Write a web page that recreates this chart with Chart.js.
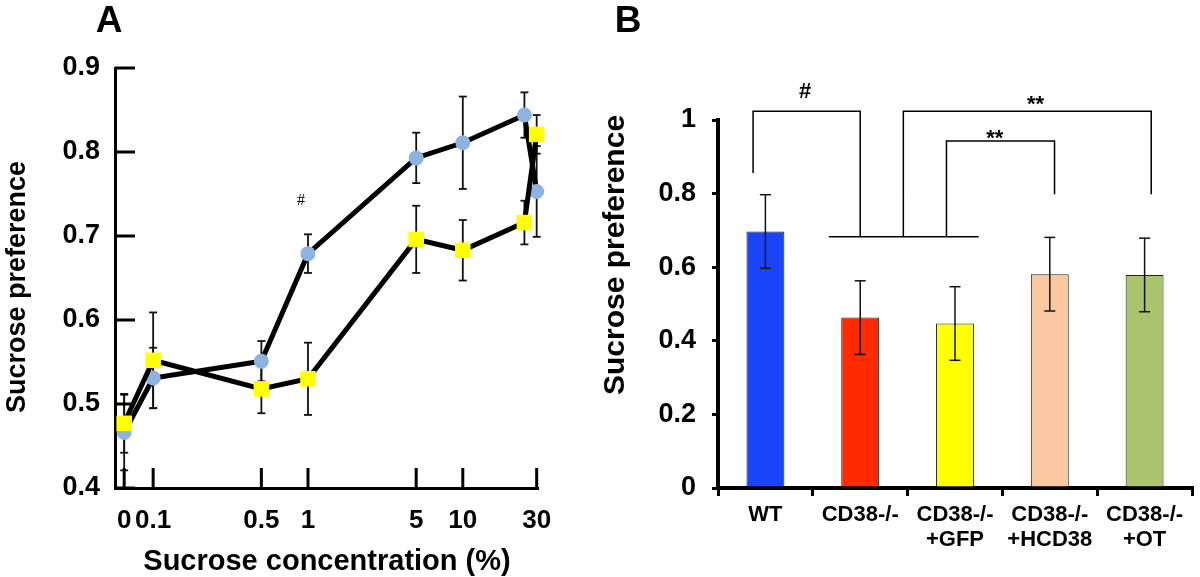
<!DOCTYPE html>
<html>
<head>
<meta charset="utf-8">
<script src="https://cdn.jsdelivr.net/npm/chart.js@4.4.1/dist/chart.umd.min.js"></script>
<style>
  html, body { margin: 0; padding: 0; background: #fff; }
  #wrap { position: relative; width: 1200px; height: 577px; }
  #chartA { position: absolute; left: 0; top: 0; }
  #chartB { position: absolute; left: 580px; top: 0; }
</style>
</head>
<body>
<div id="wrap">
  <canvas id="chartA" width="580" height="577"></canvas>
  <canvas id="chartB" width="620" height="577"></canvas>
</div>
<script>
// ---- Panel A: preference vs sucrose concentration ----
const CONC = [0, 0.1, 0.5, 1, 5, 10, 25, 30];
const PREF_BLUE = [0.466, 0.531, 0.551, 0.679, 0.793, 0.811, 0.844, 0.753];
const ERR_BLUE = [0.045, 0.036, 0.024, 0.023, 0.03, 0.055, 0.027, 0.054];
const PREF_YELLOW = [0.477, 0.552, 0.518, 0.530, 0.696, 0.683, 0.716, 0.821];
const ERR_YELLOW = [0.035, 0.057, 0.029, 0.043, 0.04, 0.036, 0.026, 0.023];
const CONC_TICKS = [0, 0.1, 0.5, 1, 5, 10, 30];
const PREF_TICKS_A = [0.4, 0.5, 0.6, 0.7, 0.8, 0.9];
const ZERO_AT = 0.065; // where "0" sits on the log axis

// ---- Panel B: groups ----
const GROUPS = [['WT'], ['CD38-/-'], ['CD38-/-', '+GFP'], ['CD38-/-', '+HCD38'], ['CD38-/-', '+OT']];
const PREF_B = [0.697, 0.463, 0.447, 0.581, 0.579];
const ERR_B = [0.1, 0.1, 0.1, 0.1, 0.1];
const BAR_COLORS = ['#1A44F8', '#FF2A00', '#FFFF00', '#FAC8A0', '#A9C46D'];

// significance brackets, in category index / value units
const BRACKETS = [
    { x1: -0.13, x2: 1.0, top: 1.024, left: 0.856, right: 0.683 },
    { x1: 1.455, x2: 4.07, top: 1.024, left: 0.683, right: 0.798 },
    { x1: 1.91, x2: 3.05, top: 0.943, left: 0.683, right: 0.798 }
];
const GROUP_LINE = { x1: 0.67, x2: 2.25, y: 0.683 };
const SIG_MARKS = [
    { text: '#', x: 0.42, y: 1.06 },
    { text: '**', x: 2.85, y: 1.025 },
    { text: '**', x: 2.42, y: 0.933 }
];

const FONT = "'Liberation Sans', Arial, Helvetica, sans-serif";
Chart.defaults.font.family = FONT;
Chart.defaults.color = '#000';

function line(ctx, x1, y1, x2, y2) {
    ctx.beginPath();
    ctx.moveTo(x1, y1);
    ctx.lineTo(x2, y2);
    ctx.stroke();
}

// tick marks pointing into the plot (panel A)
const inwardTicks = {
    id: 'inwardTicks',
    afterDraw(chart, args, opts) {
        const { ctx, chartArea } = chart;
        const xs = chart.scales.x, ys = chart.scales.y;
        ctx.save();
        ctx.strokeStyle = '#000';
        ctx.lineWidth = opts.lineWidth;
        xs.ticks.forEach(t => {
            const px = xs.getPixelForValue(t.value);
            line(ctx, px, chartArea.bottom, px, chartArea.bottom - opts.length);
        });
        ys.ticks.forEach(t => {
            const py = ys.getPixelForValue(t.value);
            line(ctx, chartArea.left, py, chartArea.left + opts.length, py);
        });
        ctx.restore();
    }
};

function drawErrorBars(chart, opts) {
    const ctx = chart.ctx, ys = chart.scales.y;
    ctx.save();
    ctx.strokeStyle = opts.color || '#000';
    ctx.lineWidth = opts.lineWidth;
    chart.data.datasets.forEach((ds, i) => {
        if (!ds.errors) return;
        const meta = chart.getDatasetMeta(i);
        meta.data.forEach((el, j) => {
            const v = ds.data[j];
            const val = typeof v === 'object' ? v.y : v;
            const top = ys.getPixelForValue(val + ds.errors[j]);
            const bot = ys.getPixelForValue(val - ds.errors[j]);
            const w = opts.cap / 2;
            line(ctx, el.x, top, el.x, bot);
            line(ctx, el.x - w, top, el.x + w, top);
            line(ctx, el.x - w, bot, el.x + w, bot);
        });
    });
    ctx.restore();
}

const errorBars = {
    id: 'errorBars',
    beforeDatasetsDraw(chart, args, opts) { if (!opts.above) drawErrorBars(chart, opts); },
    afterDatasetsDraw(chart, args, opts) { if (opts.above) drawErrorBars(chart, opts); }
};

// free text: panel letters, axis titles, marks
const freeText = {
    id: 'freeText',
    afterDraw(chart, args, opts) {
        const ctx = chart.ctx;
        (opts.items || []).forEach(it => {
            ctx.save();
            ctx.font = it.font;
            ctx.fillStyle = '#000';
            ctx.textAlign = 'center';
            ctx.textBaseline = 'alphabetic';
            ctx.translate(it.x, it.y);
            if (it.rotate) ctx.rotate(it.rotate);
            ctx.fillText(it.text, 0, 0);
            ctx.restore();
        });
    }
};

const brackets = {
    id: 'brackets',
    afterDraw(chart) {
        const { ctx } = chart;
        const xs = chart.scales.x, ys = chart.scales.y;
        const X = v => xs.getPixelForValue(v), Y = v => ys.getPixelForValue(v);
        ctx.save();
        ctx.strokeStyle = '#000';
        ctx.lineWidth = 1.5;
        BRACKETS.forEach(b => {
            ctx.beginPath();
            ctx.moveTo(X(b.x1), Y(b.left));
            ctx.lineTo(X(b.x1), Y(b.top));
            ctx.lineTo(X(b.x2), Y(b.top));
            ctx.lineTo(X(b.x2), Y(b.right));
            ctx.stroke();
        });
        line(ctx, X(GROUP_LINE.x1), Y(GROUP_LINE.y), X(GROUP_LINE.x2), Y(GROUP_LINE.y));
        ctx.fillStyle = '#000';
        ctx.font = 'bold 22px ' + FONT;
        ctx.textAlign = 'center';
        ctx.textBaseline = 'alphabetic';
        SIG_MARKS.forEach(m => ctx.fillText(m.text, X(m.x), Y(m.y)));
        ctx.restore();
    }
};

// ---------------- Panel A ----------------
new Chart(document.getElementById('chartA'), {
    type: 'line',
    data: {
        datasets: [
            {
                label: 'yellow',
                data: CONC.map((c, i) => ({ x: c === 0 ? ZERO_AT : c, y: PREF_YELLOW[i] })),
                errors: ERR_YELLOW,
                borderColor: '#000',
                borderWidth: 5,
                pointStyle: 'rect',
                pointRadius: 11,
                pointBackgroundColor: '#FFFF00',
                pointBorderWidth: 0,
                clip: false,
                order: 1
            },
            {
                label: 'blue',
                data: CONC.map((c, i) => ({ x: c === 0 ? ZERO_AT : c, y: PREF_BLUE[i] })),
                errors: ERR_BLUE,
                borderColor: '#000',
                borderWidth: 5,
                pointStyle: 'circle',
                pointRadius: 7.5,
                pointBackgroundColor: '#8DB3E2',
                pointBorderWidth: 0,
                clip: false,
                order: 2
            }
        ]
    },
    options: {
        responsive: false,
        animation: false,
        devicePixelRatio: 1,
        layout: { padding: { top: 68, right: 42, left: 0, bottom: 0 } },
        scales: {
            x: {
                type: 'logarithmic',
                bounds: 'data',
                min: 0.0567,
                max: 30.6,
                afterBuildTicks: s => { s.ticks = CONC_TICKS.map(c => ({ value: c === 0 ? ZERO_AT : c })); },
                afterFit: s => { s.height = 89; },
                ticks: {
                    callback: (v, i) => String(CONC_TICKS[i]),
                    font: { size: 26, weight: 'bold' },
                    padding: 17,
                    maxRotation: 0,
                    autoSkip: false
                },
                grid: { display: false, drawTicks: false },
                border: { color: '#000', width: 3 }
            },
            y: {
                min: 0.4,
                max: 0.9,
                afterBuildTicks: s => { s.ticks = PREF_TICKS_A.map(v => ({ value: v })); },
                afterFit: s => { s.width = 115; },
                ticks: {
                    callback: v => v.toFixed(1),
                    font: { size: 27, weight: 'bold' },
                    padding: 15
                },
                grid: { display: false, drawTicks: false },
                border: { color: '#000', width: 3 }
            }
        },
        plugins: {
            legend: { display: false },
            tooltip: { enabled: false },
            inwardTicks: { length: 20, lineWidth: 3 },
            errorBars: { above: false, cap: 8, lineWidth: 1.8, color: '#111' },
            freeText: {
                items: [
                    { text: 'A', x: 109, y: 32, font: 'bold 37px ' + FONT },
                    { text: 'Sucrose concentration (%)', x: 327, y: 570, font: 'bold 29px ' + FONT },
                    { text: 'Sucrose preference', x: 25, y: 287, rotate: -Math.PI / 2, font: 'bold 27px ' + FONT },
                    { text: '#', x: 301, y: 205, font: '16px "Liberation Serif", "Times New Roman", serif' }
                ]
            }
        }
    },
    plugins: [inwardTicks, errorBars, freeText]
});

// ---------------- Panel B ----------------
new Chart(document.getElementById('chartB'), {
    type: 'bar',
    data: {
        labels: GROUPS,
        datasets: [{
            data: PREF_B,
            errors: ERR_B,
            backgroundColor: BAR_COLORS,
            borderColor: '#222',
            borderWidth: 1,
            barPercentage: 0.4,
            categoryPercentage: 1
        }]
    },
    options: {
        responsive: false,
        animation: false,
        devicePixelRatio: 1,
        layout: { padding: { top: 120, right: 8, left: 0, bottom: 0 } },
        scales: {
            x: {
                afterFit: s => { s.height = 89; },
                ticks: {
                    font: { size: 22, weight: 'bold', lineHeight: 1.15 },
                    padding: 6,
                    maxRotation: 0,
                    autoSkip: false
                },
                grid: { drawOnChartArea: false, drawTicks: true, tickLength: 8, color: '#000', lineWidth: 3 },
                border: { color: '#000', width: 4 }
            },
            y: {
                min: 0,
                max: 1,
                afterFit: s => { s.width = 138; },
                ticks: {
                    stepSize: 0.2,
                    callback: v => String(+v.toFixed(1)),
                    font: { size: 27, weight: 'bold' },
                    padding: 16
                },
                grid: { drawOnChartArea: false, drawTicks: true, tickLength: 6, color: '#000', lineWidth: 3 },
                border: { color: '#000', width: 4 }
            }
        },
        plugins: {
            legend: { display: false },
            tooltip: { enabled: false },
            errorBars: { above: true, cap: 11, lineWidth: 1.5, color: '#111' },
            freeText: {
                items: [
                    { text: 'B', x: 48, y: 32, font: 'bold 37px ' + FONT },
                    { text: 'Sucrose preference', x: 44, y: 255, rotate: -Math.PI / 2, font: 'bold 30px ' + FONT }
                ]
            }
        }
    },
    plugins: [errorBars, brackets, freeText]
});
</script>
</body>
</html>
